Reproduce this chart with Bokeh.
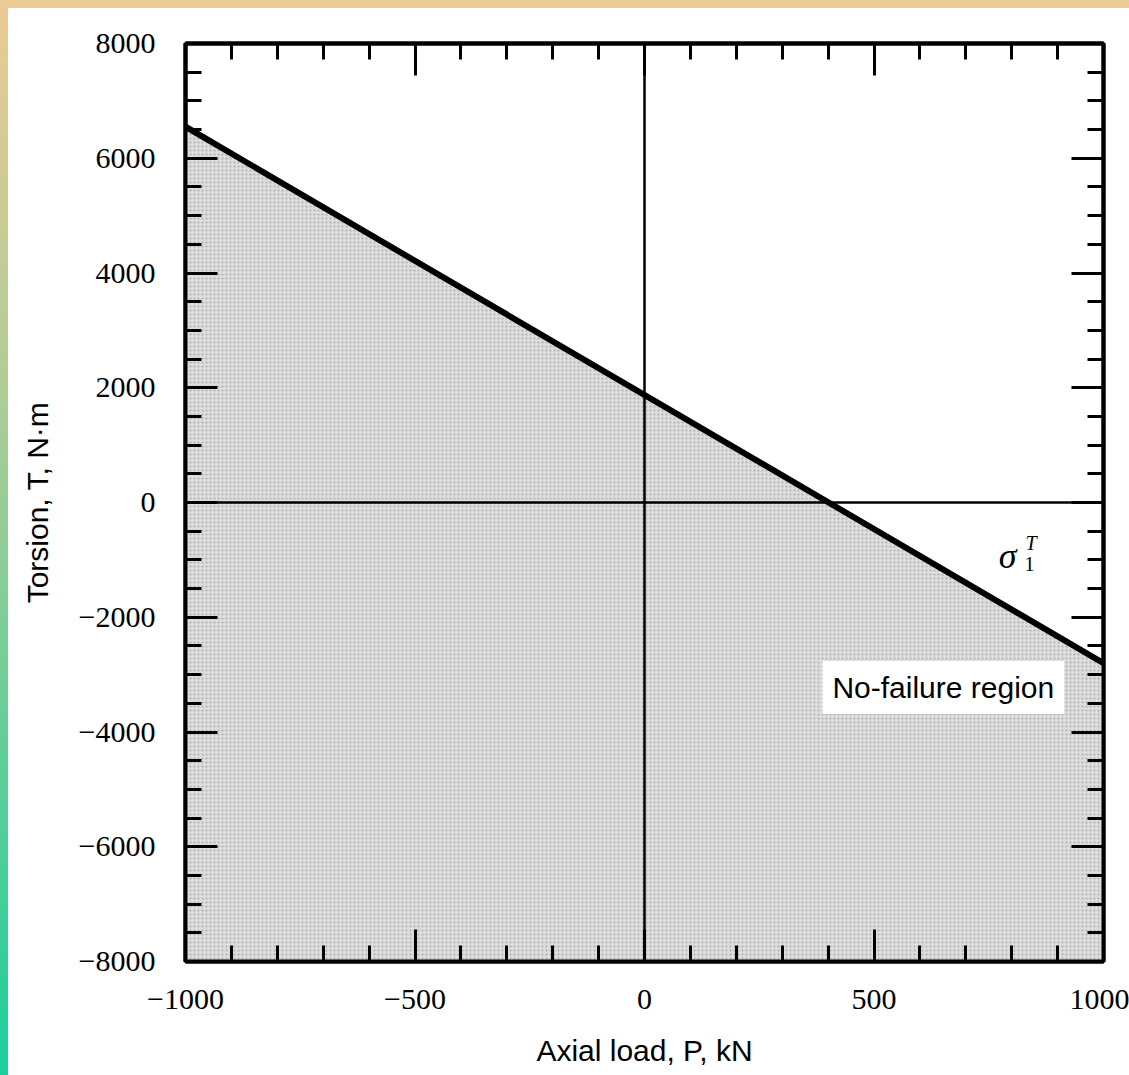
from bokeh.plotting import figure
from bokeh.models import (Range1d, LinearAxis, FixedTicker, Span, Label,
                          ColumnDataSource, CustomJSTickFormatter,
                          GlobalInlineStyleSheet)
from bokeh.embed import file_html
from bokeh.resources import INLINE

# ---------------- data ----------------
axial_load_kN = [-1000, 1000]
torsion_limit_Nm = [6550, -2800]          # failure line sigma_1^T
x_range_lim = [-1000, 1000]
y_range_lim = [-8000, 8000]

x_major_ticks = [-1000, -500, 0, 500, 1000]
x_minor_ticks = [-1000, -900, -800, -700, -600, -500, -400, -300, -200, -100,
                 0, 100, 200, 300, 400, 500, 600, 700, 800, 900, 1000]
y_major_ticks = [-8000, -6000, -4000, -2000, 0, 2000, 4000, 6000, 8000]
y_minor_ticks = [-8000, -7500, -7000, -6500, -6000, -5500, -5000, -4500, -4000,
                 -3500, -3000, -2500, -2000, -1500, -1000, -500, 0, 500, 1000,
                 1500, 2000, 2500, 3000, 3500, 4000, 4500, 5000, 5500, 6000,
                 6500, 7000, 7500, 8000]
x_tick_labels = ["\u22121000", "\u2212500", "0", "500", "1000"]
y_tick_labels = ["\u22128000", "\u22126000", "\u22124000", "\u22122000", "0",
                 "2000", "4000", "6000", "8000"]

# ---------------- figure ----------------
p = figure(width=1121, height=1067,
           x_range=Range1d(*x_range_lim), y_range=Range1d(*y_range_lim),
           x_axis_type=None, y_axis_type=None,
           output_backend="svg", toolbar_location=None,
           min_border_left=177, min_border_top=35,
           min_border_right=26, min_border_bottom=114,
           background_fill_color="white", border_fill_color="white",
           outline_line_color="black", outline_line_width=4)

p.stylesheets = [GlobalInlineStyleSheet(css="""
html { background: linear-gradient(to bottom, #ecca94 0%, #a8cd96 40%, #1bcf9b 100%) fixed; overflow: hidden; }
body { margin: 8px 0 0 8px !important; padding: 0 !important; background: #ffffff; height: auto !important; }
""")]


def style_axis(ax, ticks, minor, labels, show):
    ax.ticker = FixedTicker(ticks=ticks, minor_ticks=minor)
    ax.axis_line_width = 4
    ax.axis_line_color = "black"
    ax.major_tick_in = 32
    ax.major_tick_out = 0
    ax.minor_tick_in = 16
    ax.minor_tick_out = 0
    ax.major_tick_line_width = 3
    ax.minor_tick_line_width = 3
    ax.major_tick_line_color = "black"
    ax.minor_tick_line_color = "black"
    if show:
        ax.major_label_overrides = {t: l for t, l in zip(ticks, labels)}
        ax.major_label_text_font = "Liberation Serif"
        ax.major_label_text_font_size = "30px"
        ax.major_label_text_color = "black"
    else:
        ax.formatter = CustomJSTickFormatter(code="return ''")
        ax.major_label_standoff = 0
    ax.axis_label_text_font = "Liberation Sans"
    ax.axis_label_text_font_size = "30px"
    ax.axis_label_text_font_style = "normal"
    ax.axis_label_text_color = "black"


xb = LinearAxis(axis_label="Axial load, P, kN")
style_axis(xb, x_major_ticks, x_minor_ticks, x_tick_labels, True)
xb.major_label_standoff = 28
xb.axis_label_standoff = 22
p.add_layout(xb, "below")

yl = LinearAxis(axis_label="Torsion, T, N\u00b7m")
style_axis(yl, y_major_ticks, y_minor_ticks, y_tick_labels, True)
yl.major_label_standoff = 30
yl.axis_label_standoff = 22
p.add_layout(yl, "left")

xt = LinearAxis()
style_axis(xt, x_major_ticks, x_minor_ticks, x_tick_labels, False)
p.add_layout(xt, "above")

yr = LinearAxis()
style_axis(yr, y_major_ticks, y_minor_ticks, y_tick_labels, False)
p.add_layout(yr, "right")

# shaded no-failure region (below the failure line)
region = ColumnDataSource(dict(
    x=axial_load_kN + [axial_load_kN[1], axial_load_kN[0]],
    y=torsion_limit_Nm + [y_range_lim[0], y_range_lim[0]],
))
p.patch("x", "y", source=region, fill_color="#dddddd", line_color=None,
        hatch_pattern="dot", hatch_color="#7a7a7a", hatch_scale=4,
        hatch_weight=1, hatch_alpha=0.5)

# axes through origin
p.add_layout(Span(location=0, dimension="height", line_color="black", line_width=2.5))
p.add_layout(Span(location=0, dimension="width", line_color="black", line_width=2.5))

# failure line
p.line(axial_load_kN, torsion_limit_Nm, line_color="black", line_width=6)

# annotations
p.add_layout(Label(x=651, y=-3224, text="No-failure region",
                   text_align="center", text_baseline="middle",
                   text_font="Liberation Sans", text_font_size="30px",
                   text_color="black", background_fill_color="white",
                   padding=10))
p.add_layout(Label(x=772, y=-940, text="\u03c3", text_align="left",
                   text_baseline="alphabetic", text_font="Liberation Serif",
                   text_font_size="36px", text_font_style="italic",
                   text_color="black"))
p.add_layout(Label(x=830, y=-700, text="T", text_align="left",
                   text_baseline="alphabetic", text_font="Liberation Serif",
                   text_font_size="20px", text_font_style="italic",
                   text_color="black"))
p.add_layout(Label(x=828, y=-1080, text="1", text_align="left",
                   text_baseline="alphabetic", text_font="Liberation Serif",
                   text_font_size="20px", text_color="black"))

open("out.html", "w").write(file_html(p, INLINE))
